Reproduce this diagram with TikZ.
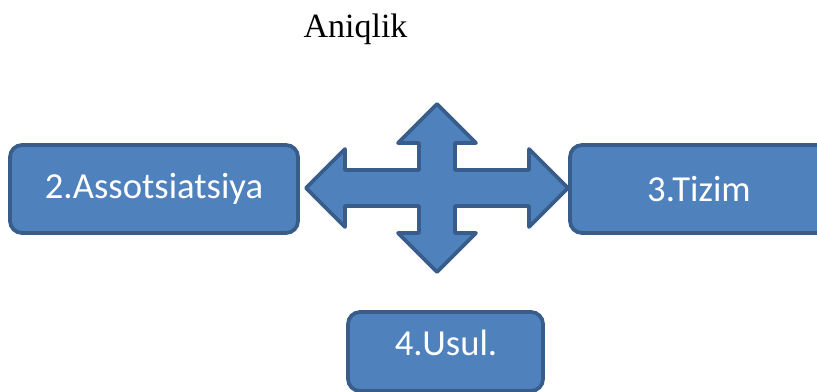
\documentclass[tikz,border=0pt]{standalone}
\usepackage{fontspec}
\setmainfont{Liberation Serif}
\newfontfamily\boxfont{Carlito}
\definecolor{boxblue}{RGB}{79,129,189}
\definecolor{edgeblue}{RGB}{56,93,138}
\usetikzlibrary{calc}

\begin{document}
\begin{tikzpicture}[x=0.75pt, y=-0.75pt,
    box/.style={draw=edgeblue, fill=boxblue, line width=2.8pt, rounded corners=9pt, inner sep=0pt},
    boxtext/.style={text=white, font=\boxfont\fontsize{27.5}{32}\selectfont}]
    \clip (0,0) rectangle (817,392);
    \node[font=\fontsize{25.5}{30}\selectfont, anchor=base] (title) at (355.5,38) {Aniqlik};
    \node[box, boxtext, minimum width=216pt, minimum height=66pt] (assoc) at (154,189) {2.Assotsiatsiya};
    \node[box, boxtext, minimum width=193.5pt, minimum height=66pt] (tizim) at (699,189) {3.Tizim};
    \node[box, minimum width=146.25pt, minimum height=59.25pt] (usul) at (445.5,351.5) {};
    \node[boxtext] (usultext) at (446,343) {4.Usul.};
    % four-way arrow between the boxes
    \filldraw[fill=boxblue, draw=edgeblue, line width=2.8pt, line join=round]
        (437,104) -- (476,143) -- (455,143) -- (455,170) -- (529,170) -- (529,149)
        -- (568,188) -- (529,227) -- (529,206) -- (455,206) -- (455,233) -- (476,233)
        -- (437,272) -- (398,233) -- (419,233) -- (419,206) -- (345,206) -- (345,227)
        -- (306,188) -- (345,149) -- (345,170) -- (419,170) -- (419,143) -- (398,143) -- cycle;
\end{tikzpicture}
\end{document}
